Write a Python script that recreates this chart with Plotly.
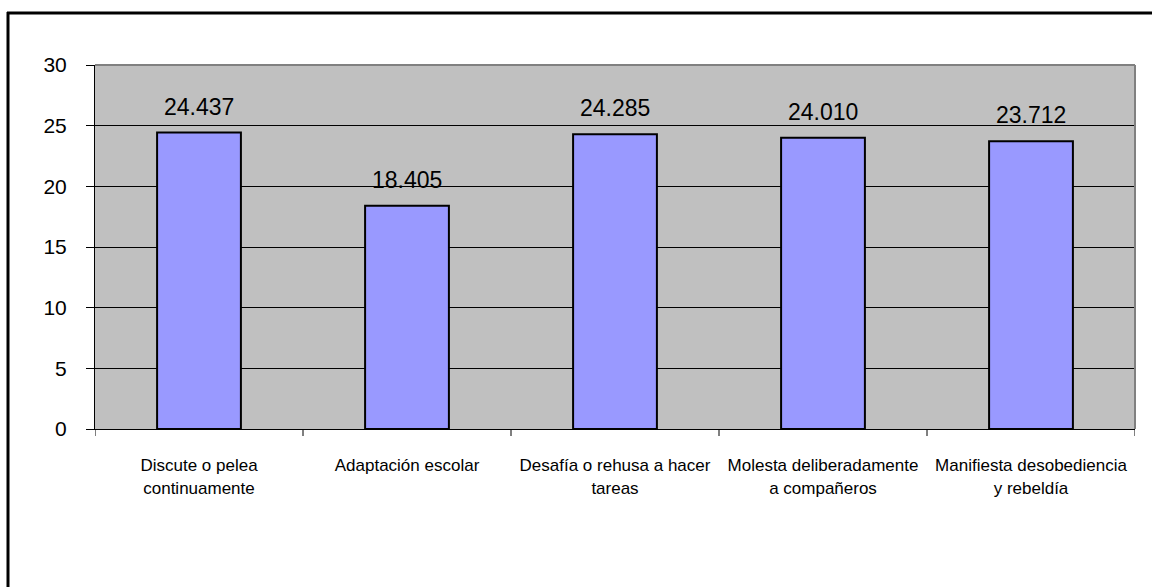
import plotly.graph_objects as go

categories = [
    "Discute o pelea<br>continuamente",
    "Adaptación escolar",
    "Desafía o rehusa a hacer<br>tareas",
    "Molesta deliberadamente<br>a compañeros",
    "Manifiesta desobediencia<br>y rebeldía",
]
values = [24.437, 18.405, 24.285, 24.010, 23.712]
value_labels = ["24.437", "18.405", "24.285", "24.010", "23.712"]
y_ticks = [0, 5, 10, 15, 20, 25, 30]

W, H = 1152, 587
L, R, T, B = 95, 1135, 65, 429
pw, ph = R - L, B - T

fig = go.Figure()
fig.add_trace(go.Bar(
    x=list(range(len(categories))),
    y=values,
    marker=dict(color="#9999FF", line=dict(color="black", width=2)),
    width=0.403,
    hoverinfo="skip",
))

for i, (v, lab) in enumerate(zip(values, value_labels)):
    fig.add_annotation(
        x=i, y=v, text=lab, showarrow=False,
        yanchor="middle", yshift=26,
        font=dict(family="Liberation Sans, Arial", size=23, color="black"),
    )

fig.update_layout(
    width=W, height=H,
    margin=dict(l=L, r=W - R, t=T, b=H - B, pad=0),
    paper_bgcolor="white",
    plot_bgcolor="#C0C0C0",
    showlegend=False,
    font=dict(family="Liberation Sans, Arial", color="black"),
    xaxis=dict(
        range=[-0.5, len(categories) - 0.5],
        tickmode="array",
        tickvals=list(range(len(categories))),
        ticktext=categories,
        tickfont=dict(size=17, family="Liberation Sans, Arial"),
        ticks="",
        ticklabelstandoff=21,
        showgrid=False,
        zeroline=False,
        showline=True, linecolor="black", linewidth=1,
        fixedrange=True,
    ),
    yaxis=dict(
        range=[0, 30],
        tickmode="array",
        tickvals=y_ticks,
        tickfont=dict(size=21),
        ticks="outside", ticklen=8, tickcolor="black", tickwidth=1,
        ticklabelstandoff=15,
        showgrid=True, gridcolor="black", gridwidth=1,
        zeroline=False,
        showline=True, linecolor="black", linewidth=1,
        fixedrange=True,
    ),
    shapes=[
        # plot frame top/right in gray
        dict(type="line", xref="paper", yref="paper", x0=0, x1=1, y0=1, y1=1,
             line=dict(color="#808080", width=2), layer="above"),
        dict(type="line", xref="paper", yref="paper", x0=1, x1=1, y0=0, y1=1,
             line=dict(color="#808080", width=2), layer="above"),
        # outer chart border: only top and left edges are visible in the view
        dict(type="line", xref="paper", yref="paper",
             x0=(7 - L) / pw, x1=(W + 20 - L) / pw,
             y0=(B - 13) / ph, y1=(B - 13) / ph,
             line=dict(color="black", width=3), layer="above"),
        dict(type="line", xref="paper", yref="paper",
             x0=(8 - L) / pw, x1=(8 - L) / pw,
             y0=(B - H - 20) / ph, y1=(B - 12) / ph,
             line=dict(color="black", width=3), layer="above"),
    ],
)

# category boundary ticks on x axis
for k in range(len(categories) + 1):
    fig.add_shape(type="line", xref="x", yref="paper",
                  x0=k - 0.5, x1=k - 0.5, y0=0, y1=-7 / ph,
                  line=dict(color="black", width=1), layer="above")

fig.write_html(
    "out.html",
    config={"displayModeBar": False, "staticPlot": True},
    post_script=(
        "document.body.style.margin='0';"
        "document.body.style.overflow='hidden';"
        "document.documentElement.style.overflow='hidden';"
    ),
)
